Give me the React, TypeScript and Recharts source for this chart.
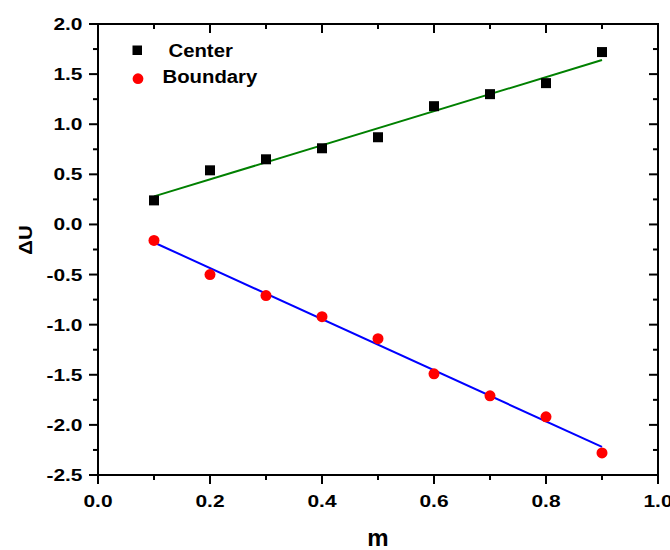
import { ComposedChart, Label, Legend, Line, Scatter, XAxis, YAxis } from "recharts";

const mValues = [0.1, 0.2, 0.3, 0.4, 0.5, 0.6, 0.7, 0.8, 0.9];
const centerU = [0.24, 0.54, 0.65, 0.76, 0.87, 1.18, 1.3, 1.41, 1.72];
const boundaryU = [-0.16, -0.5, -0.71, -0.92, -1.14, -1.49, -1.71, -1.92, -2.28];

// fitted straight lines, end points
const fitM = [0.1, 0.9];
const centerFitU = [0.28, 1.64];
const boundaryFitU = [-0.18, -2.22];

const xTicks = [0, 0.1, 0.2, 0.3, 0.4, 0.5, 0.6, 0.7, 0.8, 0.9, 1.0];
const yTicks = [-2.5, -2.25, -2, -1.75, -1.5, -1.25, -1, -0.75, -0.5, -0.25, 0, 0.25, 0.5, 0.75, 1, 1.25, 1.5, 1.75, 2];

const seriesNames = ["Center", "Boundary"];

const centerData = mValues.map((m, i) => ({ m, u: centerU[i] }));
const boundaryData = mValues.map((m, i) => ({ m, u: boundaryU[i] }));
const centerFit = fitM.map((m, i) => ({ m, u: centerFitU[i] }));
const boundaryFit = fitM.map((m, i) => ({ m, u: boundaryFitU[i] }));

// layout
const W = 670;
const H = 550;
const MARGIN = { top: 24, right: 12, bottom: 0, left: 0 };
const Y_AXIS_W = 98;
const X_AXIS_H = 75;
const PLOT_W = W - MARGIN.left - MARGIN.right - Y_AXIS_W;
const PLOT_H = H - MARGIN.top - MARGIN.bottom - X_AXIS_H;

const FONT = "'Liberation Sans', Arial, sans-serif";
const MAJOR = 9;
const MINOR = 5;

const isMajorX = (v: number) => Math.round(v * 10) % 2 === 0;
const isMajorY = (v: number) => Math.round(v * 4) % 2 === 0;

const tickText = (x: number, y: number, anchor: "middle" | "end", label: string) => (
  <text
    transform={`translate(${x},${y}) scale(1.27,1)`}
    textAnchor={anchor}
    fontFamily={FONT}
    fontWeight="bold"
    fontSize={16.5}
    fill="#000"
  >
    {label}
  </text>
);

// bottom ticks point out; the matching top tick points in, and the first one draws the top edge of the box
const BottomTick = (props: any) => {
  const { x, y, payload, index } = props;
  const len = isMajorX(payload.value) ? MAJOR : MINOR;
  const top = y - PLOT_H;
  return (
    <g>
      <line x1={x} x2={x} y1={y} y2={y + len} stroke="#000" strokeWidth={2} />
      <line x1={x} x2={x} y1={top} y2={top + len} stroke="#000" strokeWidth={2} />
      {index === 0 && <line x1={x - 1} x2={x + PLOT_W + 1} y1={top} y2={top} stroke="#000" strokeWidth={2} />}
      {isMajorX(payload.value) && tickText(x, y + 31.5, "middle", payload.value.toFixed(1))}
    </g>
  );
};

// left ticks point out; the right-hand ticks point in, and the first one draws the right edge of the box
const LeftTick = (props: any) => {
  const { x, y, payload, index } = props;
  const len = isMajorY(payload.value) ? MAJOR : MINOR;
  const right = x + PLOT_W;
  return (
    <g>
      <line x1={x - len} x2={x} y1={y} y2={y} stroke="#000" strokeWidth={2} />
      <line x1={right - len} x2={right} y1={y} y2={y} stroke="#000" strokeWidth={2} />
      {index === 0 && <line x1={right} x2={right} y1={y + 1} y2={y - PLOT_H - 1} stroke="#000" strokeWidth={2} />}
      {isMajorY(payload.value) && tickText(x - 15.5, y + 6, "end", payload.value.toFixed(1))}
    </g>
  );
};

const SquareDot = (props: any) => {
  const { cx, cy } = props;
  return <rect x={cx - 5} y={cy - 5} width={10} height={10} fill="#000" />;
};

const RoundDot = (props: any) => {
  const { cx, cy } = props;
  return <circle cx={cx} cy={cy} r={5.5} fill="#ff0000" />;
};

const XTitle = (props: any) => {
  const vb = props.viewBox;
  return (
    <text x={vb.x + vb.width / 2} y={vb.y + 71} textAnchor="middle" fontFamily={FONT} fontWeight="bold" fontSize={24} fill="#000">
      m
    </text>
  );
};

const YTitle = (props: any) => {
  const vb = props.viewBox;
  return (
    <text
      transform={`translate(32,${vb.y + vb.height / 2 - 9.5}) rotate(-90) scale(1.1,1)`}
      textAnchor="middle"
      fontFamily={FONT}
      fontWeight="bold"
      fontSize={18.5}
      fill="#000"
    >
      ΔU
    </text>
  );
};

const LegendBox = () => (
  <svg width={300} height={100} style={{ display: "block" }}>
    <rect x={132.5} y={45.5} width={9.5} height={9.5} fill="#000" />
    <text transform="translate(168.5,56.7) scale(1.07,1)" fontFamily={FONT} fontWeight="bold" fontSize={19} fill="#000">
      {seriesNames[0]}
    </text>
    <circle cx={138} cy={78.7} r={5.4} fill="#ff0000" />
    <text transform="translate(162.5,82.7) scale(1.07,1)" fontFamily={FONT} fontWeight="bold" fontSize={19} fill="#000">
      {seriesNames[1]}
    </text>
  </svg>
);

export default function App() {
  return (
    <div style={{ position: "absolute", left: 0, top: 0, background: "#fff" }}>
      <ComposedChart width={W} height={H} margin={MARGIN}>
        <XAxis
          dataKey="m"
          type="number"
          domain={[0, 1]}
          ticks={xTicks}
          interval={0}
          height={X_AXIS_H}
          tickSize={0}
          tickMargin={0}
          tickLine={false}
          tick={BottomTick}
          axisLine={{ stroke: "#000", strokeWidth: 2 }}
        >
          <Label content={XTitle} />
        </XAxis>
        <YAxis
          dataKey="u"
          type="number"
          domain={[-2.5, 2]}
          ticks={yTicks}
          interval={0}
          width={Y_AXIS_W}
          tickSize={0}
          tickMargin={0}
          tickLine={false}
          tick={LeftTick}
          axisLine={{ stroke: "#000", strokeWidth: 2 }}
        >
          <Label content={YTitle} />
        </YAxis>
        <Legend
          layout="vertical"
          align="center"
          verticalAlign="middle"
          content={LegendBox}
          wrapperStyle={{ left: 0, top: 0, width: 300, height: 100 }}
        />
        <Line data={centerFit} dataKey="u" type="linear" stroke="#008000" strokeWidth={2} dot={false} legendType="none" isAnimationActive={false} />
        <Line data={boundaryFit} dataKey="u" type="linear" stroke="#0000ff" strokeWidth={2} dot={false} legendType="none" isAnimationActive={false} />
        <Scatter name={seriesNames[0]} data={centerData} dataKey="u" shape={SquareDot} isAnimationActive={false} />
        <Scatter name={seriesNames[1]} data={boundaryData} dataKey="u" shape={RoundDot} isAnimationActive={false} />
      </ComposedChart>
    </div>
  );
}
